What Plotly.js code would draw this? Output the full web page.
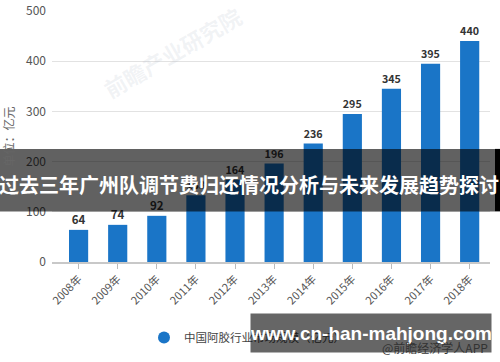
<!DOCTYPE html>
<html>
<head>
<meta charset="utf-8">
<script src="https://cdn.plot.ly/plotly-3.0.1.min.js"></script>
<style>
html,body{margin:0;padding:0;background:#fff;}
#chart{width:500px;height:362px;}
</style>
</head>
<body>
<div id="chart"></div>
<script>
const years = ["2008年","2009年","2010年","2011年","2012年","2013年","2014年","2015年","2016年","2017年","2018年"];
const marketSize = [64, 74, 92, 133, 164, 196, 236, 295, 345, 395, 440];
const seriesName = "中国阿胶行业市场规模（亿元）";
const yTitle = "单位：亿元";
const bannerText = "过去三年广州队调节费归还情况分析与未来发展趋势探讨";
const siteText = "www.cn-han-mahjong.com";
const sourceText = "@前瞻经济学人APP";
const watermarkText = "前瞻产业研究院";

const FONT = "'Noto Sans CJK SC', 'Noto Sans', sans-serif";
const BLUE = "#1a75c7";

// pixel helpers for paper coords
const L = 52, R = 10, T = 11, B = 98, W = 500, H = 362;
const pw = W - L - R, ph = H - T - B;
const px = x => (x - L) / pw;
const py = y => (H - B - y) / ph;

const traces = [
  {
    type: "bar",
    x: years,
    y: marketSize,
    width: 0.49,
    marker: {color: BLUE},
    text: marketSize.map(String),
    textposition: "outside",
    cliponaxis: false,
    textfont: {family: FONT, size: 11.5, color: "#333", weight: "bold"},
    showlegend: false,
    hoverinfo: "x+y"
  },
  {
    type: "scatter",
    mode: "markers",
    x: [null],
    y: [null],
    name: seriesName,
    marker: {color: BLUE, size: 12, symbol: "circle"},
    showlegend: true
  }
];

const layout = {
  width: W, height: H,
  margin: {l: L, r: R, t: T, b: B, pad: 0},
  paper_bgcolor: "#fff",
  plot_bgcolor: "#fff",
  font: {family: FONT, color: "#555", size: 11},
  bargap: 0.5,
  xaxis: {
    type: "category",
    range: [-0.68, 10.52],
    tickangle: -45,
    ticks: "outside",
    ticklen: 5,
    tickcolor: "#bbb",
    tickfont: {family: FONT, size: 11, color: "#555"},
    showline: true,
    linecolor: "#c8c8c8",
    linewidth: 1.5,
    showgrid: false,
    fixedrange: true
  },
  yaxis: {
    range: [0, 500],
    tickvals: [0, 100, 200, 300, 400, 500],
    ticks: "",
    ticklabelstandoff: 5,
    tickfont: {family: FONT, size: 12, color: "#555"},
    showgrid: true,
    gridcolor: "#e2e2e2",
    gridwidth: 1,
    zeroline: false,
    showline: false,
    title: {text: yTitle, font: {family: FONT, size: 12, color: "#666"}, standoff: 8},
    fixedrange: true
  },
  legend: {
    orientation: "h",
    x: px(144), y: py(340),
    xanchor: "left", yanchor: "middle",
    font: {family: FONT, size: 11.5, color: "#444"},
    bgcolor: "rgba(0,0,0,0)"
  },
  shapes: [
    {type: "rect", xref: "paper", yref: "paper",
     x0: px(0), x1: px(495), y0: py(213), y1: py(150),
     fillcolor: "rgba(0,0,0,0.62)", line: {width: 0}, layer: "above"},
    {type: "rect", xref: "paper", yref: "paper",
     x0: px(495), x1: px(500), y0: py(213), y1: py(150),
     fillcolor: "#000", line: {width: 0}, layer: "above"}
  ],
  annotations: [
    {text: watermarkText, xref: "paper", yref: "paper", x: px(172), y: py(52),
     xanchor: "center", yanchor: "middle",
     showarrow: false, textangle: -30, font: {family: FONT, size: 22, color: "rgba(170,180,195,0.16)", weight: "bold"}},
    {text: bannerText, xref: "paper", yref: "paper", x: px(249), y: py(186),
     xanchor: "center", yanchor: "middle", showarrow: false,
     font: {family: FONT, size: 20, color: "#fff", weight: "bold"}},
    {text: siteText, xref: "paper", yref: "paper", x: px(250), y: py(315),
     xanchor: "left", yanchor: "top", showarrow: false,
     width: 240, height: 38, borderpad: 0, align: "center", valign: "middle",
     bgcolor: "rgba(0,0,0,0.6)",
     font: {family: "'Liberation Sans', Arial, sans-serif", size: 19, color: "#fff", weight: "bold"}},
    {text: sourceText, xref: "paper", yref: "paper", x: px(490), y: py(350),
     xanchor: "right", yanchor: "middle", showarrow: false,
     font: {family: FONT, size: 12, color: "#333"}}
  ]
};

Plotly.newPlot("chart", traces, layout, {displayModeBar: false, staticPlot: true});
</script>
</body>
</html>
